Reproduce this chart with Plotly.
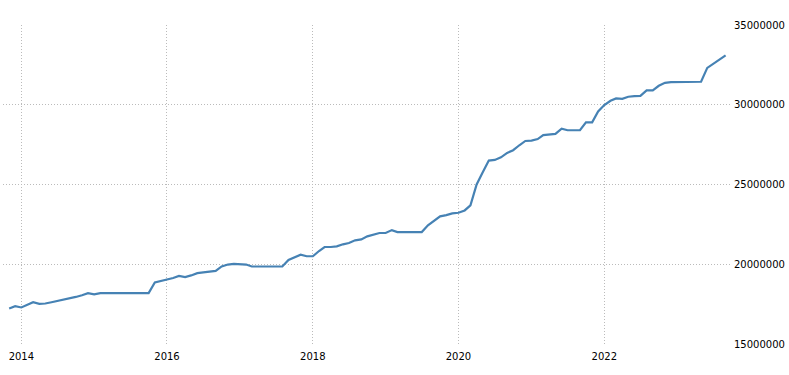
import pandas as pd
import plotly.graph_objects as go

start_month = "2013-11-01"
values_millions = [
    17.23, 17.375,
    17.29, 17.45, 17.625, 17.52, 17.54, 17.62, 17.69, 17.77, 17.86, 17.95, 18.06, 18.19,
    18.11, 18.19, 18.19, 18.19, 18.19, 18.19, 18.19, 18.19, 18.19, 18.19, 18.86, 18.95,
    19.02, 19.14, 19.27, 19.19, 19.3, 19.44, 19.49, 19.54, 19.58, 19.86, 19.98, 20.02,
    20.0, 19.98, 19.86, 19.86, 19.86, 19.86, 19.86, 19.86, 20.27, 20.45, 20.6, 20.5,
    20.5, 20.83, 21.08, 21.08, 21.12, 21.25, 21.33, 21.5, 21.56, 21.75, 21.85, 21.96,
    21.96, 22.14, 22.02, 22.02, 22.02, 22.02, 22.02, 22.44, 22.72, 23.0, 23.08, 23.19,
    23.23, 23.375, 23.69, 25.0, 25.75, 26.5, 26.54, 26.7, 26.98, 27.15, 27.46, 27.73,
    27.75, 27.85, 28.1, 28.13, 28.17, 28.5, 28.4, 28.4, 28.4, 28.9, 28.9, 29.58,
    29.98, 30.25, 30.4, 30.375, 30.5, 30.54, 30.56, 30.9, 30.9, 31.19, 31.375, 31.42,
    31.43, 31.44, 31.44, 31.44, 31.44, 32.31, 32.56, 32.875, 33.1,
]
values = [v * 1e6 for v in values_millions]
dates = pd.date_range(start_month, periods=len(values), freq="MS")

y_ticks = [15000000, 20000000, 25000000, 30000000, 35000000]
y_tick_labels = ["15000000", "20000000", "25000000", "30000000", "35000000"]

fig = go.Figure()
fig.add_trace(go.Scatter(
    x=dates, y=values, mode="lines",
    line=dict(color="#4682B4", width=2.2),
    hoverinfo="x+y",
))

fig.update_layout(
    width=789, height=375,
    margin=dict(l=3, r=58, t=25, b=31),
    paper_bgcolor="white", plot_bgcolor="white",
    showlegend=False,
    font=dict(family="DejaVu Sans, Verdana, sans-serif", size=10, color="#000"),
)
fig.update_xaxes(
    range=["2013-10-01", "2023-09-28"],
    tick0="2014-01-01", dtick="M24", tickformat="%Y",
    showgrid=True, gridcolor="#bbbbbb", griddash="1px,2px", gridwidth=1,
    zeroline=False, showline=False, ticks="", ticklabelstandoff=5,
)
fig.update_yaxes(
    side="right", range=[15000000, 35000000],
    tickvals=y_ticks, ticktext=y_tick_labels,
    showgrid=True, gridcolor="#bbbbbb", griddash="1px,2px", gridwidth=1,
    zeroline=False, showline=False, ticks="", ticklabelstandoff=2,
)

fig.write_html("out.html")
